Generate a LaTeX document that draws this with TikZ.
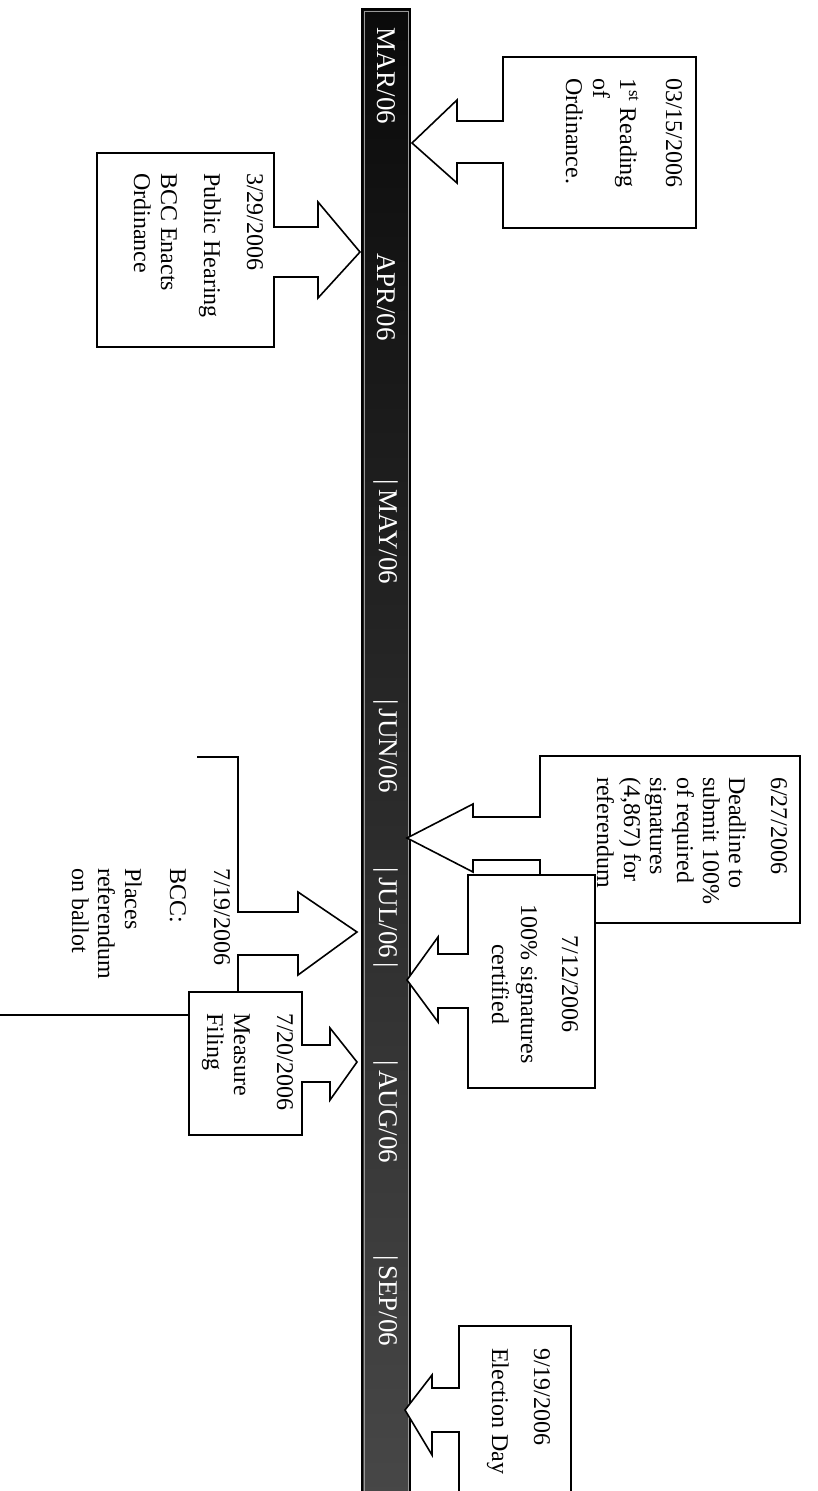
\documentclass[tikz,border=0pt]{standalone}
\usepackage{fontspec}
\setmainfont{Liberation Serif}
\begin{document}
\begin{tikzpicture}[x=1pt,y=-1pt,
  callout/.style={draw=black, line width=1.6pt, fill=white, line join=miter},
  outline/.style={draw=black, line width=1.6pt},
  txt/.style={rotate=-90, anchor=base west, inner sep=0pt, font=\fontsize{24}{28}\selectfont},
  ctxt/.style={rotate=-90, anchor=base, inner sep=0pt, font=\fontsize{24}{28}\selectfont},
  month/.style={rotate=-90, anchor=center, inner sep=0pt, text=white, font=\fontsize{27}{30}\selectfont}]
\useasboundingbox (0,0) rectangle (818,1491);
\clip (0,0) rectangle (818,1491);
\fill[white] (0,0) rectangle (818,1491);

% timeline bar
\node[draw=black, line width=1.6pt, top color=black!96, bottom color=black!72, minimum width=48pt, minimum height=1500pt, inner sep=0pt, anchor=north] (bar) at (386,8) {};
\draw[black!40, line width=0.6pt] ([xshift=3pt,yshift=-3pt]bar.north west) -- ([xshift=3pt]bar.south west);
\draw[black!40, line width=0.6pt] ([xshift=-3pt,yshift=-3pt]bar.north east) -- ([xshift=-3pt]bar.south east);
\draw[black!40, line width=0.6pt] ([xshift=3pt,yshift=-3pt]bar.north west) -- ([xshift=-3pt,yshift=-3pt]bar.north east);

\node[month] (mar) at (386,76) {MAR/06};
\node[month] (apr) at (386,297) {APR/06};
\node[month] (may) at (386,532) {|\,MAY/06};
\node[month] (jun) at (386,746) {|\,JUN/06};
\node[month] (jul) at (386,918) {|\,JUL/06\,|};
\node[month] (aug) at (386,1112) {|\,AUG/06};
\node[month] (sep) at (386,1301) {|\,SEP/06};

% 03/15/2006
\draw[callout] (503,57) -- (696,57) -- (696,228) -- (503,228) -- (503,163) -- (457,163) -- (457,183) -- (412,143) -- (457,100) -- (457,121) -- (503,121) -- cycle;
\node[txt] (t1a) at (666,78) {03/15/2006};
\node[txt] (t1b) at (620,78) {1\textsuperscript{st} Reading};
\node[txt] (t1c) at (593,78) {of};
\node[txt] (t1d) at (566,78) {Ordinance.};

% 3/29/2006
\draw[callout] (274,153) -- (97,153) -- (97,347) -- (274,347) -- (274,277) -- (318,277) -- (318,298) -- (360,252) -- (318,202) -- (318,227) -- (274,227) -- cycle;
\node[txt] (t2a) at (247,173) {3/29/2006};
\node[txt] (t2b) at (204,173) {Public Hearing};
\node[txt] (t2c) at (161,173) {BCC Enacts};
\node[txt] (t2d) at (134,173) {Ordinance};

% 6/27/2006
\draw[callout] (540,756) -- (800,756) -- (800,923) -- (540,923) -- (540,860) -- (473,860) -- (473,872) -- (407,838) -- (473,804) -- (473,817) -- (540,817) -- cycle;
\node[txt] (t3a) at (771,777) {6/27/2006};
\node[txt] (t3b) at (729,777) {Deadline to};
\node[txt] (t3c) at (703,777) {submit 100\%};
\node[txt] (t3d) at (677,777) {of required};
\node[txt] (t3e) at (650,777) {signatures};
\node[txt] (t3f) at (624,777) {(4,867) for};
\node[txt] (t3g) at (597,777) {referendum};

% 7/12/2006
\draw[callout] (468,875) -- (595,875) -- (595,1088) -- (468,1088) -- (468,1008) -- (438,1008) -- (438,1022) -- (407,980) -- (438,937) -- (438,954) -- (468,954) -- cycle;
\node[ctxt] (t4a) at (562,984) {7/12/2006};
\node[ctxt] (t4b) at (521,984) {100\% signatures};
\node[ctxt] (t4c) at (492,984) {certified};

% 7/19/2006
\fill[white] (-5,757) -- (238,757) -- (238,912) -- (298,912) -- (298,892) -- (357,932) -- (298,975) -- (298,955) -- (238,955) -- (238,1015) -- (-5,1015) -- cycle;
\draw[outline] (197,757) -- (238,757) -- (238,912) -- (298,912) -- (298,892) -- (357,932) -- (298,975) -- (298,955) -- (238,955) -- (238,1015) -- (-5,1015);
\node[txt] (t5a) at (214,868) {7/19/2006};
\node[txt] (t5b) at (170,868) {BCC:};
\node[txt] (t5c) at (125,868) {Places};
\node[txt] (t5d) at (98,868) {referendum};
\node[txt] (t5e) at (72,868) {on ballot};

% 7/20/2006
\draw[callout] (302,992) -- (189,992) -- (189,1135) -- (302,1135) -- (302,1082) -- (330,1082) -- (330,1100) -- (357,1062) -- (330,1028) -- (330,1045) -- (302,1045) -- cycle;
\node[txt] (t6a) at (277,1013) {7/20/2006};
\node[txt] (t6b) at (234,1013) {Measure};
\node[txt] (t6c) at (207,1013) {Filing};

% 9/19/2006
\draw[callout] (459,1326) -- (571,1326) -- (571,1500) -- (459,1500) -- (459,1432) -- (432,1432) -- (432,1455) -- (405,1410) -- (432,1375) -- (432,1388) -- (459,1388) -- cycle;
\node[txt] (t7a) at (534,1348) {9/19/2006};
\node[txt] (t7b) at (492,1348) {Election Day};
\end{tikzpicture}
\end{document}
